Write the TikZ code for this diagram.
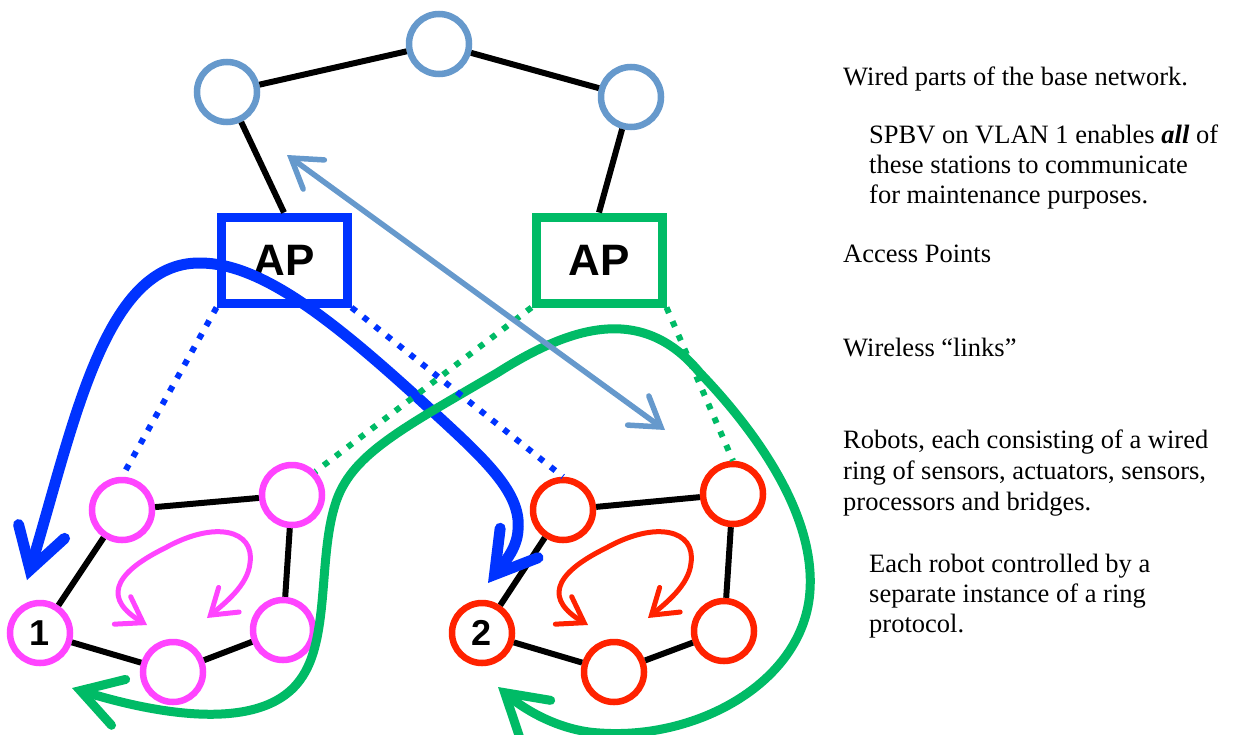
\documentclass[tikz,border=0pt]{standalone}
\usepackage{fontspec}
\setmainfont{Liberation Serif}
\setsansfont{Liberation Sans}
\usetikzlibrary{arrows.meta,positioning}
\definecolor{wblue}{HTML}{6699CC}
\definecolor{apblue}{HTML}{0033FF}
\definecolor{apgreen}{HTML}{00BB66}
\definecolor{rmag}{HTML}{FF44FF}
\definecolor{rred}{HTML}{FF2200}

\begin{document}
\begin{tikzpicture}[%
    x=1pt, y=-1pt,
    stn/.style={circle, draw=#1, line width=6.5pt, minimum size=60pt, inner sep=0pt, font={\sffamily\bfseries\fontsize{36}{36}\selectfont}},
    ap/.style={draw=#1, line width=9pt, minimum width=126pt, minimum height=86pt, inner sep=0pt, font={\sffamily\bfseries\fontsize{44}{44}\selectfont}},
    wire/.style={line width=6pt},
    radio/.style={draw=#1, line width=6pt, dash pattern=on 6pt off 9pt},
    big/.style={draw=#1, line width=11pt, <->, >={Straight Barb[line cap=round, line join=miter, length=40pt, width=48pt]}},
    loop/.style={draw=#1, line width=9pt, <->, >={Straight Barb[line cap=round, line join=miter, length=40pt, width=48pt]}},
    ring/.style={draw=#1, line width=5pt, <->, >={Straight Barb[line cap=round, line join=miter, length=24pt, width=32pt]}},
    txt/.style={anchor=base west, inner sep=0pt, font={\fontsize{26.5}{31}\selectfont}}
    ]

    \useasboundingbox (0,0) rectangle (1233,734);

    % base network
    \node[stn=wblue] (t1) at (227,92) {};
    \node[stn=wblue] (t2) at (439,44) {};
    \node[stn=wblue] (t3) at (631,97) {};
    \node[ap=apblue] (apB) at (284,260) {AP};
    \node[ap=apgreen] (apG) at (599,260) {AP};
        \draw[wire] (t1) -- (t2) -- (t3);
        \draw[wire] (t1) -- (apB.north);
        \draw[wire] (t3) -- (apG.north);

    % robot 1
    \node[stn=rmag] (r1a) at (122,510) {};
    \node[stn=rmag] (r1b) at (292,495) {};
    \node[stn=rmag] (r1c) at (283,630) {};
    \node[stn=rmag] (r1d) at (173,672) {};
    \node[stn=rmag] (r1e) at (40,633) {1};
        \draw[wire] (r1e) -- (r1a) -- (r1b) -- (r1c) -- (r1d) -- (r1e);

    % robot 2
    \node[stn=rred] (r2a) at (563,510) {};
    \node[stn=rred] (r2b) at (733,494) {};
    \node[stn=rred] (r2c) at (724,631) {};
    \node[stn=rred] (r2d) at (614,672) {};
    \node[stn=rred] (r2e) at (482,633) {2};
        \draw[wire] (r2e) -- (r2a) -- (r2b) -- (r2c) -- (r2d) -- (r2e);

    \draw[ring=rmag] (147,625) .. controls (105,600) and (110,575) .. (165,548)
        .. controls (215,520) and (255,530) .. (250,563) .. controls (248,585) and (225,603) .. (207,618);
    \begin{scope}[xshift=441pt]
        \draw[ring=rred] (147,625) .. controls (105,600) and (110,575) .. (165,548)
            .. controls (215,520) and (255,530) .. (250,563) .. controls (248,585) and (225,603) .. (207,618);
    \end{scope}

    % spanning paths
    \draw[big=apblue] (27,580) .. controls (75,420) and (105,262) .. (200,263)
        .. controls (260,263) and (330,318) .. (417,397) .. controls (480,455) and (522,490) .. (518,530)
        .. controls (517,550) and (502,565) .. (488,583);

    \draw[radio=apgreen] (apG.south west) -- (r1b.north east);
    \draw[radio=apgreen] (apG.south east) -- (r2b.north);

    \draw[loop=apgreen] (72,688) .. controls (150,712) and (260,735) .. (300,680)
        .. controls (330,640) and (318,560) .. (335,505) .. controls (350,455) and (400,430) .. (497,373)
        .. controls (565,330) and (640,300) .. (700,373) .. controls (750,425) and (815,510) .. (810,590)
        .. controls (805,680) and (700,740) .. (600,733) .. controls (560,731) and (525,710) .. (498,687);

    \draw[radio=apblue] (apB.south west) -- (r1a.north);
    \draw[radio=apblue] (apB.south east) -- (r2a.north);

    \coordinate (m1) at (287,155);
    \coordinate (m2) at (665,430);
    \draw[draw=wblue, line width=5.5pt, <->, >={Straight Barb[line cap=round, line join=miter, length=28pt, width=36pt]}] (m1) -- (m2);

    % legend
    \node[txt] (l1) at (843,85) {Wired parts of the base network.};
    \node[txt] (l2) at (869,143) {SPBV on VLAN 1 enables \textbf{\textit{all}} of};
    \node[txt] (l3) at (869,173) {these stations to communicate};
    \node[txt] (l4) at (869,203) {for maintenance purposes.};
    \node[txt] (l5) at (843,262) {Access Points};
    \node[txt] (l6) at (843,356) {Wireless “links”};
    \node[txt] (l7) at (843,448) {Robots, each consisting of a wired};
    \node[txt] (l8) at (843,479) {ring of sensors, actuators, sensors,};
    \node[txt] (l9) at (843,510) {processors and bridges.};
    \node[txt] (l10) at (869,572) {Each robot controlled by a};
    \node[txt] (l11) at (869,602) {separate instance of a ring};
    \node[txt] (l12) at (869,632) {protocol.};

\end{tikzpicture}
\end{document}
